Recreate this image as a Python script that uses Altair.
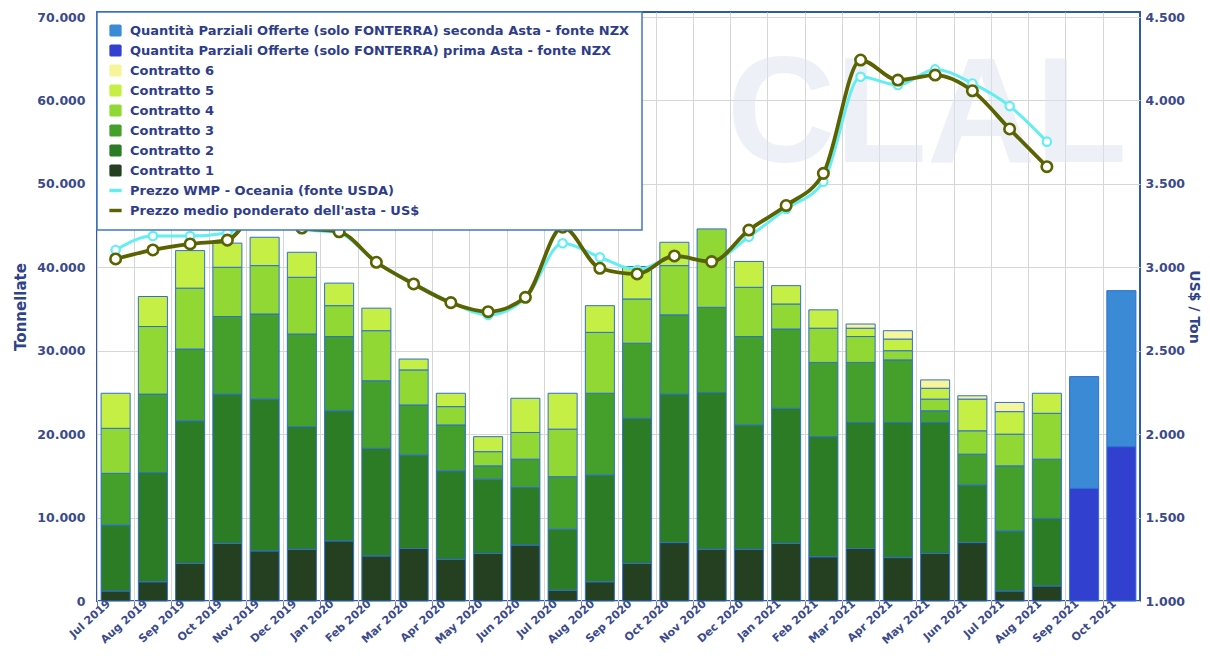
import altair as alt
import pandas as pd

months = ["Jul 2019", "Aug 2019", "Sep 2019", "Oct 2019", "Nov 2019", "Dec 2019",
          "Jan 2020", "Feb 2020", "Mar 2020", "Apr 2020", "May 2020", "Jun 2020",
          "Jul 2020", "Aug 2020", "Sep 2020", "Oct 2020", "Nov 2020", "Dec 2020",
          "Jan 2021", "Feb 2021", "Mar 2021", "Apr 2021", "May 2021", "Jun 2021",
          "Jul 2021", "Aug 2021", "Sep 2021", "Oct 2021"]

c1 = [1200, 2300, 4500, 6900, 6000, 6200, 7200, 5400, 6300, 5000, 5700, 6700, 1300, 2300,
      4500, 7000, 6200, 6200, 6900, 5300, 6300, 5200, 5700, 7000, 1200, 1800, 0, 0]
c2 = [7900, 13100, 17100, 17900, 18200, 14700, 15600, 12900, 11200, 10600, 8900, 6900, 7300, 12800,
      17400, 17800, 18800, 14900, 16200, 14400, 15100, 16200, 15700, 6900, 7200, 8100, 0, 0]
c3 = [6200, 9400, 8600, 9300, 10200, 11100, 8900, 8100, 6000, 5500, 1600, 3400, 6300, 9800,
      9000, 9500, 10200, 10600, 9500, 8900, 7200, 7500, 1400, 3700, 7800, 7100, 0, 0]
c4 = [5400, 8100, 7300, 5900, 5800, 6800, 3700, 6000, 4200, 2200, 1700, 3200, 5700, 7300,
      5300, 5900, 9400, 5900, 3000, 4100, 3100, 1100, 1400, 2800, 3800, 5500, 0, 0]
c5 = [4200, 3600, 4500, 2900, 3400, 3000, 2700, 2700, 1300, 1600, 1800, 4100, 4300, 3200,
      3900, 2800, 0, 3100, 2200, 2200, 1000, 1400, 1300, 3800, 2700, 2400, 0, 0]
c6 = [0, 0, 0, 0, 0, 0, 0, 0, 0, 0, 0, 0, 0, 0,
      0, 0, 0, 0, 0, 0, 500, 1000, 1000, 400, 1100, 0, 0, 0]
prima = [0] * 26 + [13500, 18500]
seconda = [0] * 26 + [13400, 18700]

medio = [3050, 3104, 3140, 3163, 3380, 3235, 3213, 3030, 2900, 2788, 2734, 2820, 3240, 2994,
         2960, 3068, 3034, 3223, 3370, 3563, 4242, 4122, 4152, 4058, 3829, 3603]
wmp = [3104, 3187, 3187, 3205, 3360, 3230, 3205, 3030, 2905, 2790, 2714, 2815, 3144, 3060,
       2984, 3060, 3040, 3183, 3350, 3513, 4142, 4092, 4186, 4102, 3966, 3753]

n_sec = "Quantità Parziali Offerte (solo FONTERRA) seconda Asta - fonte NZX"
n_pri = "Quantita Parziali Offerte (solo FONTERRA) prima Asta - fonte NZX"
n_wmp = "Prezzo WMP - Oceania (fonte USDA)"
n_med = "Prezzo medio ponderato dell'asta - US$"
legend_domain = [n_sec, n_pri, "Contratto 6", "Contratto 5", "Contratto 4", "Contratto 3",
                 "Contratto 2", "Contratto 1", n_wmp, n_med]
legend_colors = ["#3a8ad6", "#3240cf", "#f7f59a", "#c6ef45", "#92d835", "#44a02b",
                 "#2c7b25", "#253f21", "#62eef2", "#5a6300"]
SQ = "M-0.7,-1H0.7Q1,-1,1,-0.7V0.7Q1,1,0.7,1H-0.7Q-1,1,-1,0.7V-0.7Q-1,-1,-0.7,-1Z"
LN = "M-1,-0.28H1V0.28H-1Z"
legend_shapes = [SQ] * 8 + [LN, LN]

stack_series = [("Contratto 1", c1), ("Contratto 2", c2), ("Contratto 3", c3),
                ("Contratto 4", c4), ("Contratto 5", c5), ("Contratto 6", c6),
                (n_pri, prima), (n_sec, seconda)]
rows = []
for i, m in enumerate(months):
    for k, (name, arr) in enumerate(stack_series):
        if arr[i] > 0:
            rows.append({"month": m, "series": name, "value": arr[i], "ord": k})
bars_df = pd.DataFrame(rows)
line_df = pd.DataFrame({"month": months[:26], "wmp": wmp, "medio": medio})
wm_df = pd.DataFrame({"t": ["CLAL"]})

FONT = "DejaVu Sans"
LBL = "#3a4a8c"
GRID = "#d6d6d6"
num_expr = "replace(format(datum.value, ','), ',', '.')"

x_enc = alt.X(
    "month:N", sort=months,
    scale=alt.Scale(domain=months, paddingInner=0.22, paddingOuter=0.11),
    axis=alt.Axis(title=None, labelAngle=-42, bandPosition=0, tickOffset=-4.1,
                  labelOffset=-3, grid=True, gridColor=GRID, gridWidth=1,
                  ticks=True, tickSize=5, tickColor="#6a7fb5", domain=False,
                  labelColor=LBL, labelFont=FONT, labelFontWeight="bold",
                  labelFontSize=11, labelPadding=-4, labelBaseline="middle",
                  labelAlign="right"),
)


def make_legend():
    return alt.Legend(
        title=None, orient="none", legendX=0, legendY=0, direction="vertical",
        fillColor="white", strokeColor="#3f78c2", padding=12,
        labelFont=FONT, labelFontWeight="bold", labelFontSize=13, labelColor="#2e3d8a",
        labelLimit=0, labelOffset=8, symbolSize=150, rowPadding=6,
        symbolStrokeWidth=0, symbolOpacity=1,
    )


color_scale = alt.Scale(domain=legend_domain, range=legend_colors)

watermark = alt.Chart(wm_df).mark_text(
    font="Liberation Sans", fontWeight="bold", fontSize=150, color="#dfe4f1",
    opacity=0.55, align="left", baseline="alphabetic"
).encode(x=alt.value(630), y=alt.value(150), text="t:N")

bars = alt.Chart(bars_df).mark_bar(stroke="#2f6fd0", strokeWidth=1).encode(
    x=x_enc,
    y=alt.Y("value:Q", stack="zero",
            scale=alt.Scale(domain=[0, 70600], nice=False, zero=True),
            axis=alt.Axis(title="Tonnellate", values=list(range(0, 70001, 10000)),
                          labelExpr=num_expr, ticks=False, domain=False,
                          grid=True, gridColor=GRID, labelColor=LBL, labelFont=FONT,
                          labelFontWeight="bold", labelFontSize=12.5, labelPadding=12,
                          titleFont=FONT, titleFontSize=15, titleFontWeight="bold",
                          titleColor="#2f4488", titlePadding=8)),
    color=alt.Color("series:N", scale=color_scale, legend=make_legend()),
    order=alt.Order("ord:Q", sort="ascending"),
)

# legend-only layer (filtered to no rows) giving each legend entry its symbol shape
legend_pts = alt.Chart(bars_df).transform_filter("false").mark_point(filled=True).encode(
    x=x_enc,
    color=alt.Color("series:N", scale=color_scale, legend=make_legend()),
    shape=alt.Shape("series:N", scale=alt.Scale(domain=legend_domain, range=legend_shapes),
                    legend=make_legend()),
)

line_scale = alt.Scale(domain=[1000, 4530], nice=False, zero=False)
right_axis = alt.Axis(title="US$ / Ton", orient="right", values=list(range(1000, 4501, 500)),
                      labelExpr=num_expr, ticks=False, domain=False, grid=False,
                      labelColor=LBL, labelFont=FONT, labelFontWeight="bold",
                      labelFontSize=12.5, labelPadding=5, titleFont=FONT,
                      titleFontSize=14, titleFontWeight="bold", titleColor="#2f4488",
                      titlePadding=2)

wmp_line = alt.Chart(line_df).mark_line(
    color="#62eef2", strokeWidth=3, interpolate="monotone",
    point=alt.OverlayMarkDef(filled=True, fill="white", stroke="#62eef2", strokeWidth=2.2, size=70, opacity=1),
).encode(
    x=x_enc,
    y=alt.Y("wmp:Q", scale=line_scale, axis=right_axis, title="US$ / Ton"),
)
medio_line = alt.Chart(line_df).mark_line(
    color="#5a6300", strokeWidth=3.8, interpolate="monotone",
    point=alt.OverlayMarkDef(filled=True, fill="white", stroke="#5a6300", strokeWidth=2.6, size=110, opacity=1),
).encode(
    x=x_enc,
    y=alt.Y("medio:Q", scale=line_scale, axis=right_axis, title="US$ / Ton"),
)

chart = alt.layer(
    watermark, bars, legend_pts, alt.layer(wmp_line, medio_line)
).resolve_scale(y="independent").properties(
    width=1043, height=589,
    autosize=alt.AutoSizeParams(type="none"),
    padding={"left": 89, "top": 4, "right": 62, "bottom": 47},
).configure_view(stroke="#2f5aa8", strokeWidth=2).configure_legend(strokeWidth=1.5)

chart.save("out.html", embed_options={"renderer": "svg", "actions": False})
